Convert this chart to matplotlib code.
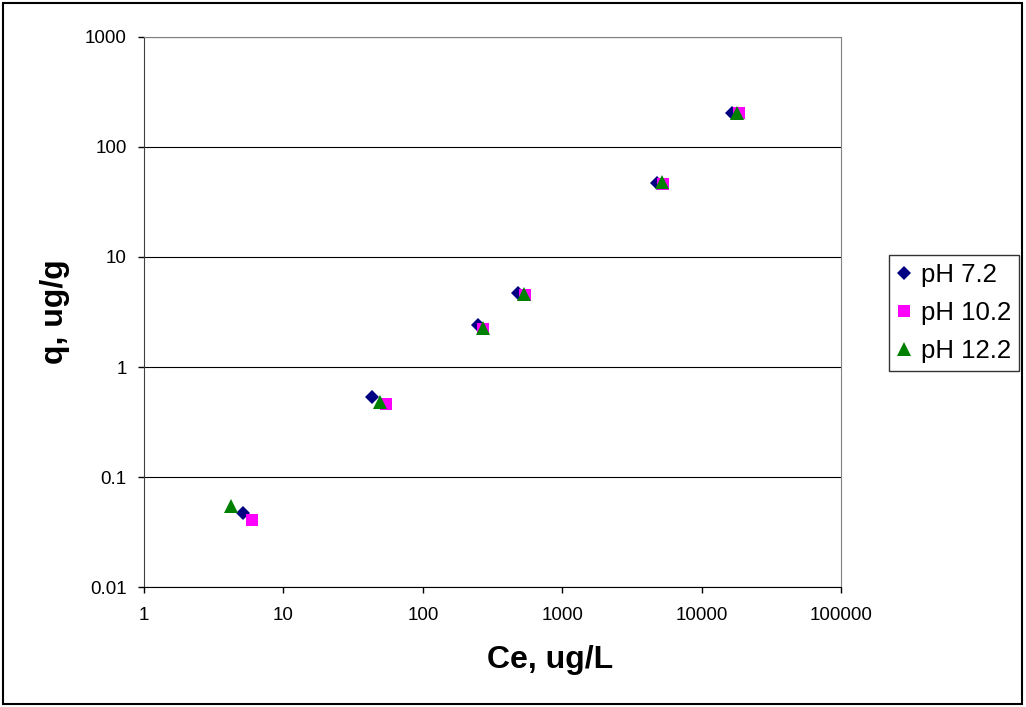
import matplotlib
matplotlib.use('Agg')
import matplotlib.pyplot as plt
from matplotlib.patches import Rectangle

plt.rcParams['font.family'] = ['Liberation Sans', 'DejaVu Sans']

## Datos de isoterma
ce_72 = [5.1, 43, 250, 480, 4800, 16500]
q_72 = [0.047, 0.53, 2.4, 4.7, 47, 205]

ce_102 = [5.9, 54, 270, 540, 5300, 18500]
q_102 = [0.041, 0.46, 2.2, 4.5, 46, 205]

ce_122 = [4.2, 49, 270, 535, 5200, 17900]
q_122 = [0.055, 0.48, 2.25, 4.6, 48, 205]

x_ticks = [1, 10, 100, 1000, 10000, 100000]
x_labels = ['1', '10', '100', '1000', '10000', '100000']
y_ticks = [0.01, 0.1, 1, 10, 100, 1000]
y_labels = ['0.01', '0.1', '1', '10', '100', '1000']

fig = plt.figure(figsize=(10.26, 7.07), dpi=100)
ax = fig.add_axes([0.1404, 0.1697, 0.6793, 0.778])

ax.plot(ce_72, q_72, 'D', color='#000080', markersize=7, markeredgewidth=0, label='pH 7.2')
ax.plot(ce_102, q_102, 's', color='#FF00FF', markersize=9, markeredgewidth=0, label='pH 10.2')
ax.plot(ce_122, q_122, '^', color='#008000', markersize=9.5, markeredgewidth=0, label='pH 12.2')

ax.set_xscale('log')
ax.set_yscale('log')
ax.set_xlim(1, 100000)
ax.set_ylim(0.01, 1000)
ax.set_xticks(x_ticks)
ax.set_xticklabels(x_labels)
ax.set_yticks(y_ticks)
ax.set_yticklabels(y_labels)
ax.minorticks_off()
ax.tick_params(axis='both', direction='out', length=4.5, width=1, labelsize=13.5, pad=8)
ax.tick_params(axis='x', pad=10)

ax.yaxis.grid(True, color='black', linewidth=0.8)
ax.set_axisbelow(True)
for s in ['top', 'right']:
    ax.spines[s].set_color('#808080')
ax.spines['left'].set_color('#404040')
ax.spines['bottom'].set_color('black')

fig.text(0.536, 1 - 660 / 707, 'Ce, ug/L', fontsize=23, fontweight='bold', ha='center', va='center')
fig.text(55 / 1026, 1 - 312 / 707, 'q, ug/g', fontsize=23, fontweight='bold', ha='center', va='center',
         rotation=90)

leg = ax.legend(loc='upper left', bbox_to_anchor=(889 / 1026, 1 - 255 / 707), bbox_transform=fig.transFigure,
                borderaxespad=0, fontsize=18.5, frameon=True, fancybox=False, handlelength=0.6,
                handletextpad=0.35, borderpad=0.3, labelspacing=0.55)
leg.get_frame().set_edgecolor('black')
leg.get_frame().set_linewidth(1)

fig.patches.append(Rectangle((0.003, 0.004), 0.993, 0.992, transform=fig.transFigure,
                             fill=False, edgecolor='black', linewidth=1.5))

plt.savefig('out.png', dpi=100)
